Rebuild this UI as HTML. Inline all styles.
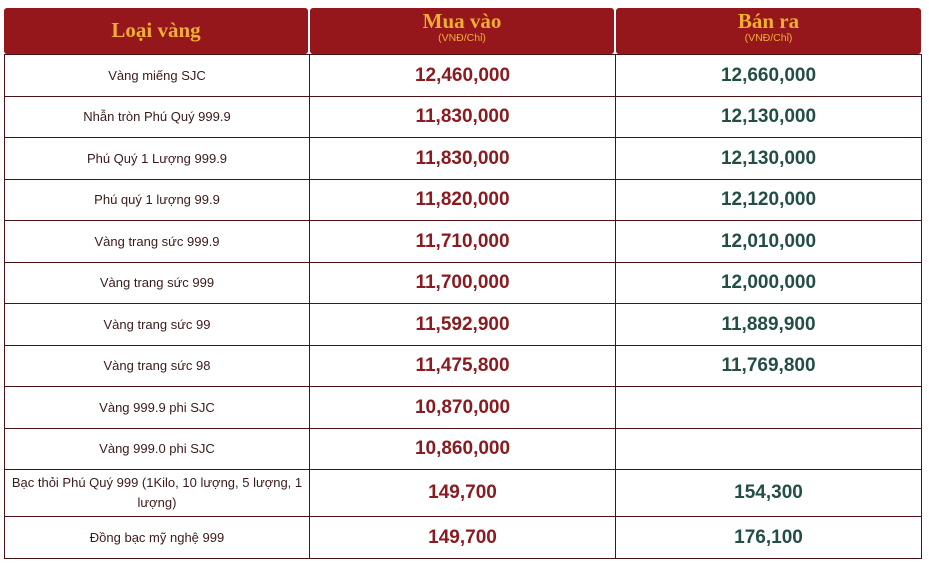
<!DOCTYPE html>
<html><head><meta charset="utf-8"><style>
body{margin:0;width:929px;height:563px;background:#fff;position:relative;overflow:hidden;font-family:"Liberation Sans",sans-serif}
.h{position:absolute;top:8px;height:46px;background:#95171b;border-radius:3px;color:#eeae35;font-family:"Liberation Serif",serif;font-weight:bold;text-align:center}
.h .t{font-size:21px;line-height:22px;margin-top:2px}
.h .s{font-family:"Liberation Sans",sans-serif;font-weight:normal;font-size:10.5px;line-height:12px}
table{position:absolute;left:4px;top:54px;border-collapse:collapse;width:918px}
td{border:1.5px solid #4a1216;text-align:center;padding:0}
td.a{width:304px;font-size:13px;color:#3a1a1a;line-height:20px}
td.b{width:305px;font-size:19px;font-weight:bold;color:#8a1b20}
td.c{font-size:19px;font-weight:bold;color:#234e45}
</style></head><body>
<div class="h" style="left:4px;width:304px"><div class="t" style="margin-top:11px">Loại vàng</div></div>
<div class="h" style="left:310px;width:304px"><div class="t">Mua vào</div><div class="s">(VNĐ/Chỉ)</div></div>
<div class="h" style="left:616px;width:305px"><div class="t">Bán ra</div><div class="s">(VNĐ/Chỉ)</div></div>
<table>
<tr style="height:42px"><td class="a">Vàng miếng SJC</td><td class="b">12,460,000</td><td class="c">12,660,000</td></tr>
<tr style="height:41px"><td class="a">Nhẫn tròn Phú Quý 999.9</td><td class="b">11,830,000</td><td class="c">12,130,000</td></tr>
<tr style="height:42px"><td class="a">Phú Quý 1 Lượng 999.9</td><td class="b">11,830,000</td><td class="c">12,130,000</td></tr>
<tr style="height:41px"><td class="a">Phú quý 1 lượng 99.9</td><td class="b">11,820,000</td><td class="c">12,120,000</td></tr>
<tr style="height:42px"><td class="a">Vàng trang sức 999.9</td><td class="b">11,710,000</td><td class="c">12,010,000</td></tr>
<tr style="height:41px"><td class="a">Vàng trang sức 999</td><td class="b">11,700,000</td><td class="c">12,000,000</td></tr>
<tr style="height:42px"><td class="a">Vàng trang sức 99</td><td class="b">11,592,900</td><td class="c">11,889,900</td></tr>
<tr style="height:41px"><td class="a">Vàng trang sức 98</td><td class="b">11,475,800</td><td class="c">11,769,800</td></tr>
<tr style="height:42px"><td class="a">Vàng 999.9 phi SJC</td><td class="b">10,870,000</td><td class="c"></td></tr>
<tr style="height:41px"><td class="a">Vàng 999.0 phi SJC</td><td class="b">10,860,000</td><td class="c"></td></tr>
<tr style="height:47px"><td class="a">Bạc thỏi Phú Quý 999 (1Kilo, 10 lượng, 5 lượng, 1 lượng)</td><td class="b">149,700</td><td class="c">154,300</td></tr>
<tr style="height:42px"><td class="a">Đồng bạc mỹ nghệ 999</td><td class="b">149,700</td><td class="c">176,100</td></tr>
</table>
</body></html>
